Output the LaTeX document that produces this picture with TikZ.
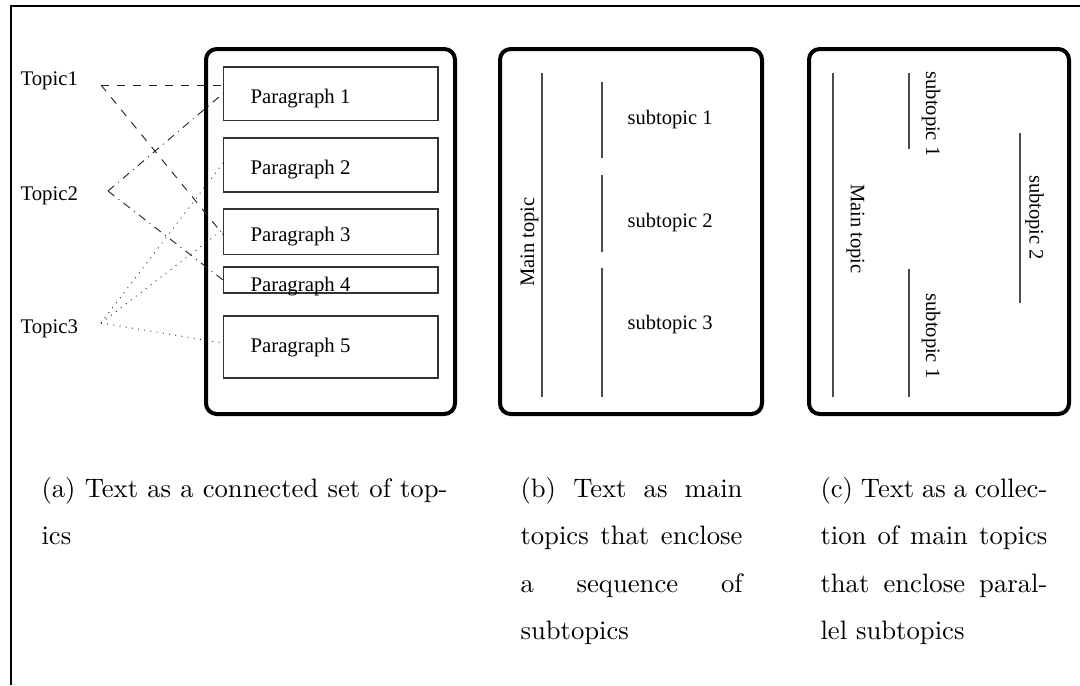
\documentclass[tikz,border=0pt]{standalone}
\usepackage{fontspec}
\newfontfamily\timesfont{Liberation Serif}
\usetikzlibrary{calc,positioning}

\begin{document}
\begin{tikzpicture}[x=0.375pt, y=-0.375pt,
  card/.style={line width=1.5pt, rounded corners=4pt},
  topic/.style={font=\timesfont\fontsize{7.8}{9}\selectfont, inner sep=0pt, anchor=base west},
  parbox/.style={draw=black!80, line width=0.4pt, minimum width=80.6pt, inner sep=0pt, outer sep=0pt},
  sub/.style={font=\timesfont\fontsize{7.7}{9}\selectfont, inner sep=0pt},
  subline/.style={draw=black!70, line width=0.4pt},
  link/.style={draw=black!85, line width=0.35pt},
  captext/.style={font=\fontsize{10}{17.75}\selectfont, inner sep=0pt, anchor=north west, align=justify}]
  \useasboundingbox (0,0) rectangle (1080,685);
  \draw[line width=1.1pt] (11,685) -- (11,6) -- (1080,6);

  \draw[card] (206,49) rectangle (455,414);
  \draw[card] (500,49) rectangle (762,414);
  \draw[card] (809,49) rectangle (1069,414);

  % (a)
  \node[topic] (t1) at (20,85) {Topic1};
  \node[topic] (t2) at (20,200) {Topic2};
  \node[topic] (t3) at (20,333) {Topic3};
  \coordinate (h1) at (101,85);
  \coordinate (h2) at (108,191);
  \coordinate (h3) at (101,323);

  \foreach \i/\y/\h/\b in {1/93.5/19.9/103, 2/165/20.25/174, 3/231.5/16.9/241, 4/280/9.75/291, 5/347/23.25/352}{
    \node[parbox, minimum height=\h pt] (p\i) at (330.5,\y) {};
    \node[topic] (pt\i) at (250,\b) {Paragraph \i};
  }

  \draw[link, dashed] (h1) -- (h1 -| p1.west);
  \draw[link, dashed] (h1) -- ($(p3.west)+(0,3)$);
  \draw[link, dashdotted] (h2) -- (p1.west);
  \draw[link, dashdotted] (h2) -- (p4.west);
  \draw[link, dotted] (h3) -- ($(p2.west)+(0,-2)$);
  \draw[link, dotted] (h3) -- ($(p3.west)+(0,-2)$);
  \draw[link, dotted] (h3) -- ($(p5.west)+(0,-4)$);

  % (b)
  \draw[subline] (542,73) -- (542,397);
  \node[sub, rotate=90] (mb) at (529.5,242) {Main topic};
  \foreach \i/\ya/\yb/\yt in {1/82/158/124, 2/175/252/227, 3/268/397/329}{
    \draw[subline] (602,\ya) -- (602,\yb);
    \node[sub, anchor=base west] (sb\i) at (627,\yt) {subtopic \i};
  }

  % (c)
  \draw[subline] (833,73) -- (833,397);
  \node[sub, rotate=-90] (mc) at (855.5,229) {Main topic};
  \draw[subline] (909,73) -- (909,149);
  \node[sub, rotate=-90] (sc1) at (931,114) {subtopic 1};
  \draw[subline] (909,269) -- (909,397);
  \node[sub, rotate=-90] (sc3) at (931,336) {subtopic 1};
  \draw[subline] (1020,133) -- (1020,303);
  \node[sub, rotate=-90] (sc2) at (1034.5,217.5) {subtopic 2};

  \node[captext, text width=152.25pt] (capa) at (41,477) {(a) Text as a connected set of top-\linebreak ics};
  \node[captext, text width=83.25pt] (capb) at (520,477) {(b) Text as main\linebreak topics that enclose\linebreak a sequence of\linebreak subtopics};
  \node[captext, text width=85.1pt] (capc) at (820,477) {(c) Text as a collec-\linebreak tion of main topics\linebreak that enclose paral-\linebreak lel subtopics};
\end{tikzpicture}
\end{document}
